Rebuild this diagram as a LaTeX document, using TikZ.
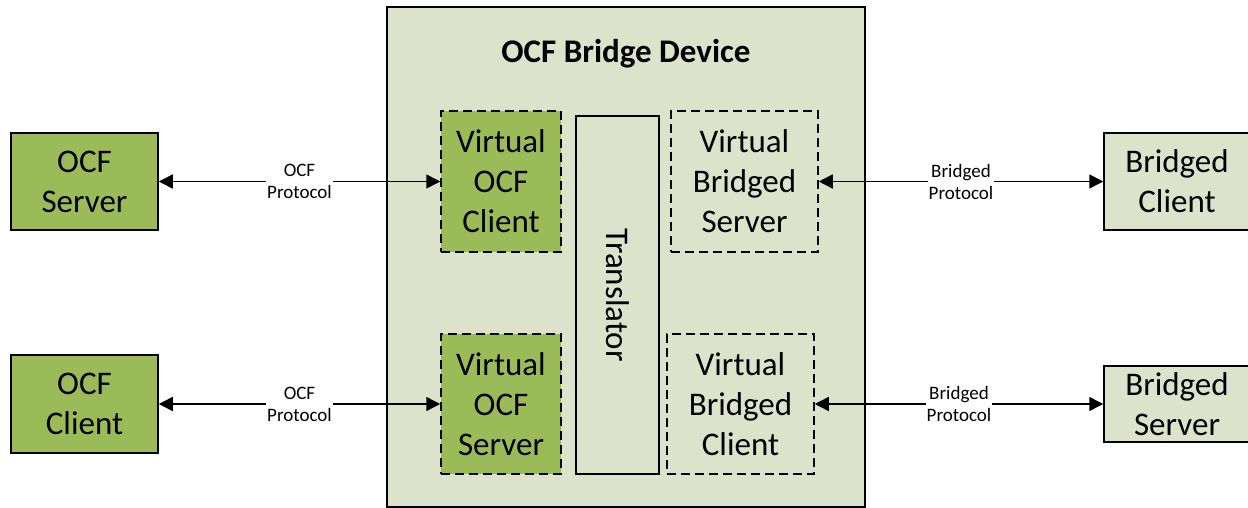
\documentclass[tikz,border=0pt]{standalone}
\usepackage{fontspec}
\setmainfont{Carlito}
\usetikzlibrary{arrows.meta}
\definecolor{ocfgreen}{RGB}{155,187,89}
\definecolor{ocflight}{RGB}{221,226,203}
\begin{document}
\begin{tikzpicture}[x=1pt,y=-1pt,
  box/.style={draw=black,line width=1.5pt,inner sep=0pt,align=center,font=\fontsize{33}{40}\selectfont},
  greenbox/.style={box,fill=ocfgreen},
  lightbox/.style={box,fill=ocflight},
  dashbox/.style={box,dash pattern=on 9pt off 5pt},
  conn/.style={line width=1.5pt,{Triangle[length=14pt,width=14pt]}-{Triangle[length=14pt,width=14pt]}},
  lab/.style={fill=white,inner xsep=1pt,inner ysep=1pt,align=center,font=\fontsize{19}{22}\selectfont}
]
\useasboundingbox (0,0) rectangle (1248,508);
\node[lightbox,line width=1.6pt,minimum width=478pt,minimum height=500pt] (dev) at (626,257) {};
\node[font=\fontsize{33}{40}\selectfont\bfseries] (title) at (626,54) {OCF Bridge Device};
\node[greenbox,minimum width=147pt,minimum height=97pt] (ocfs) at (84.5,181.5) {OCF\\Server};
\node[greenbox,minimum width=147pt,minimum height=98pt] (ocfc) at (84.5,404) {OCF\\Client};
\node[lightbox,minimum width=146pt,minimum height=97pt] (brc) at (1177,181.5) {Bridged\\Client};
\node[lightbox,minimum width=146pt,minimum height=76pt] (brs) at (1177,404) {Bridged\\Server};
\node[dashbox,fill=ocfgreen,minimum width=120pt,minimum height=141pt] (voc) at (501,181.5) {Virtual\\OCF\\Client};
\node[dashbox,fill=ocfgreen,minimum width=120pt,minimum height=140pt] (vos) at (501,404) {Virtual\\OCF\\Server};
\node[box,rotate=-90,minimum width=358pt,minimum height=83pt] (trans) at (617.5,295) {Translator};
\node[dashbox,minimum width=147pt,minimum height=141pt] (vbs) at (744.5,181.5) {Virtual\\Bridged\\Server};
\node[dashbox,minimum width=147pt,minimum height=140pt] (vbc) at (740.5,404) {Virtual\\Bridged\\Client};
\draw[conn] (ocfs.east) -- (voc.west) node[midway,lab] {OCF\\Protocol};
\draw[conn] (ocfc.east) -- (vos.west) node[midway,lab] {OCF\\Protocol};
\draw[conn] (vbs.east) -- (brc.west) node[midway,lab] {Bridged\\Protocol};
\draw[conn] (vbc.east) -- (brs.west) node[midway,lab] {Bridged\\Protocol};
\end{tikzpicture}
\end{document}
